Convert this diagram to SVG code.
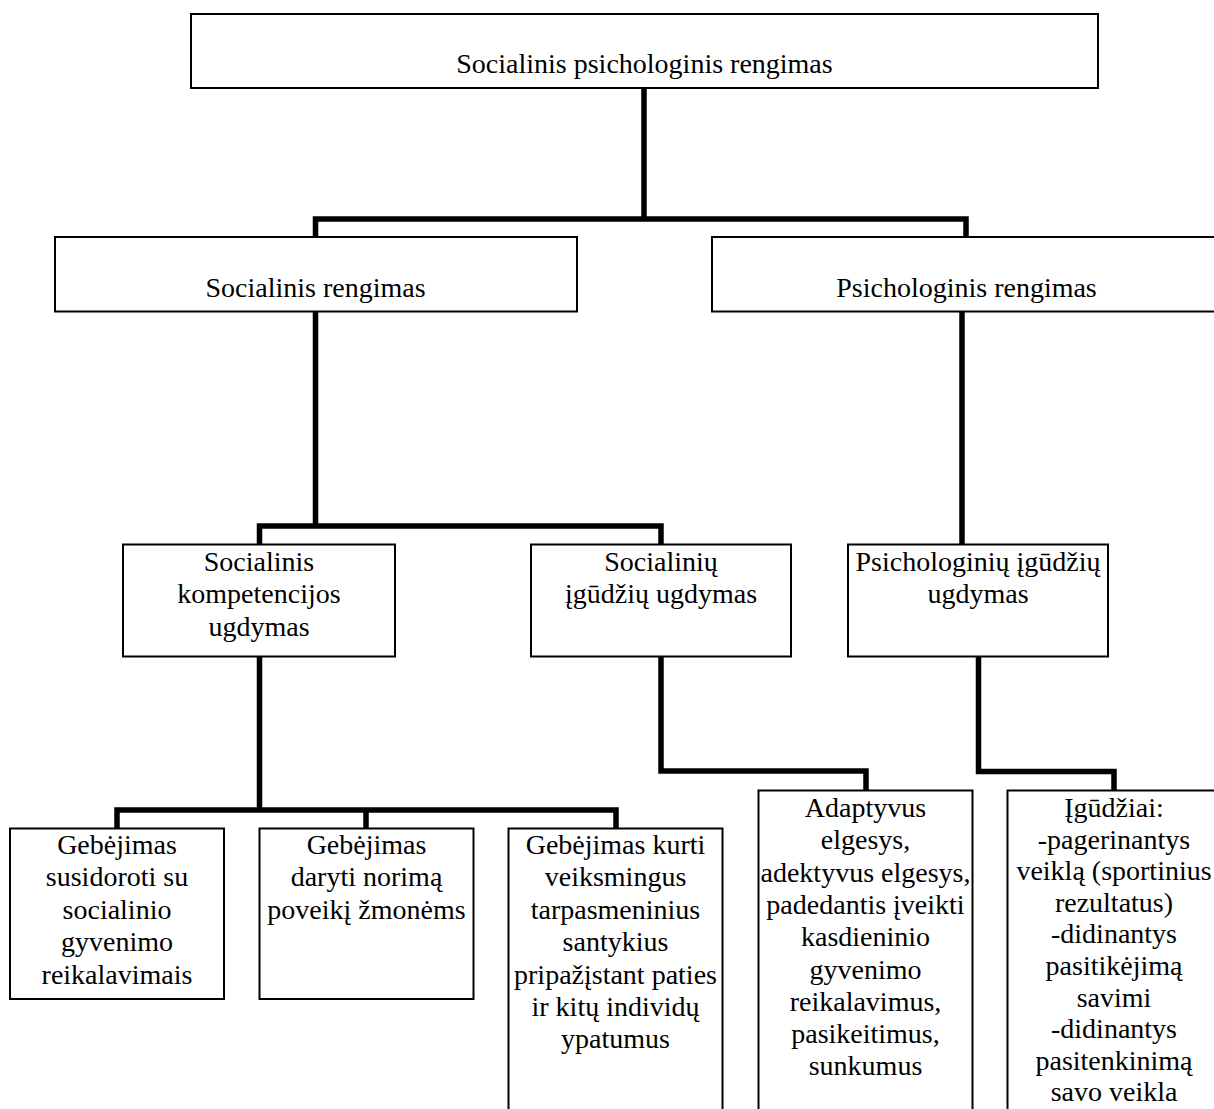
<svg xmlns="http://www.w3.org/2000/svg" width="1214" height="1109" viewBox="0 0 1214 1109">
<style>
.box{fill:#fff;stroke:#000;stroke-width:2}
.conn{fill:none;stroke:#000;stroke-width:5.5;stroke-linejoin:miter;stroke-linecap:butt}
text{font-family:"Liberation Serif","Times New Roman",serif;font-size:28px;fill:#000;text-anchor:middle}
</style>
<rect x="0" y="0" width="1214" height="1109" fill="#fff"/>
<g id="connectors">
<path class="conn" d="M644 88 V219"/>
<path class="conn" d="M315.5 237 V219 H966 V237"/>
<path class="conn" d="M315.5 311.5 V526"/>
<path class="conn" d="M259.5 544.5 V526 H661 V544.5"/>
<path class="conn" d="M962 311.5 V544.5"/>
<path class="conn" d="M259.5 656.5 V810"/>
<path class="conn" d="M117 828.5 V810 H616 V828.5"/>
<path class="conn" d="M366 810 V828.5"/>
<path class="conn" d="M661 656.5 V771 H866 V790.5"/>
<path class="conn" d="M978.5 656.5 V771.5 H1114 V790.5"/>
</g>
<g id="n-root">
<rect class="box" x="191" y="14" width="907" height="74"/>
<text x="644.5" y="73">Socialinis psichologinis rengimas</text>
</g>
<g id="n-social">
<rect class="box" x="55" y="237" width="522" height="74.5"/>
<text x="315.5" y="296.5">Socialinis rengimas</text>
</g>
<g id="n-psych">
<rect class="box" x="712" y="237" width="510" height="74.5"/>
<text x="966.5" y="296.5">Psichologinis rengimas</text>
</g>
<g id="n-komp">
<rect class="box" x="123" y="544.5" width="272" height="112"/>
<text><tspan x="259" y="570.5">Socialinis</tspan><tspan x="259" y="603">kompetencijos</tspan><tspan x="259" y="635.5">ugdymas</tspan></text>
</g>
<g id="n-socig">
<rect class="box" x="531" y="544.5" width="260" height="112"/>
<text><tspan x="661" y="570.5">Socialinių</tspan><tspan x="661" y="603">įgūdžių ugdymas</tspan></text>
</g>
<g id="n-psyig">
<rect class="box" x="848" y="544.5" width="260" height="112"/>
<text><tspan x="978" y="570.5">Psichologinių įgūdžių</tspan><tspan x="978" y="603">ugdymas</tspan></text>
</g>
<g id="n-b1">
<rect class="box" x="10" y="828.5" width="214" height="170.5"/>
<text><tspan x="117" y="854">Gebėjimas</tspan><tspan x="117" y="886.4">susidoroti su</tspan><tspan x="117" y="918.8">socialinio</tspan><tspan x="117" y="951.2">gyvenimo</tspan><tspan x="117" y="983.6">reikalavimais</tspan></text>
</g>
<g id="n-b2">
<rect class="box" x="259.5" y="828.5" width="214" height="170.5"/>
<text><tspan x="366.5" y="854">Gebėjimas</tspan><tspan x="366.5" y="886.4">daryti norimą</tspan><tspan x="366.5" y="918.8">poveikį žmonėms</tspan></text>
</g>
<g id="n-b3">
<rect class="box" x="508.5" y="828.5" width="214" height="290"/>
<text><tspan x="615.5" y="854">Gebėjimas kurti</tspan><tspan x="615.5" y="886.4">veiksmingus</tspan><tspan x="615.5" y="918.8">tarpasmeninius</tspan><tspan x="615.5" y="951.2">santykius</tspan><tspan x="615.5" y="983.6">pripažįstant paties</tspan><tspan x="615.5" y="1016">ir kitų individų</tspan><tspan x="615.5" y="1048.4">ypatumus</tspan></text>
</g>
<g id="n-b4">
<rect class="box" x="758.5" y="790.5" width="214" height="330"/>
<text><tspan x="865.5" y="817">Adaptyvus</tspan><tspan x="865.5" y="849.3">elgesys,</tspan><tspan x="865.5" y="881.6">adektyvus elgesys,</tspan><tspan x="865.5" y="913.9">padedantis įveikti</tspan><tspan x="865.5" y="946.2">kasdieninio</tspan><tspan x="865.5" y="978.5">gyvenimo</tspan><tspan x="865.5" y="1010.8">reikalavimus,</tspan><tspan x="865.5" y="1043.1">pasikeitimus,</tspan><tspan x="865.5" y="1075.4">sunkumus</tspan></text>
</g>
<g id="n-b5">
<rect class="box" x="1007.5" y="790.5" width="214" height="330"/>
<text><tspan x="1114" y="817">Įgūdžiai:</tspan><tspan x="1114" y="848.6">-pagerinantys</tspan><tspan x="1114" y="880.2">veiklą (sportinius</tspan><tspan x="1114" y="911.8">rezultatus)</tspan><tspan x="1114" y="943.4">-didinantys</tspan><tspan x="1114" y="975">pasitikėjimą</tspan><tspan x="1114" y="1006.6">savimi</tspan><tspan x="1114" y="1038.2">-didinantys</tspan><tspan x="1114" y="1069.8">pasitenkinimą</tspan><tspan x="1114" y="1101.4">savo veikla</tspan></text>
</g>
</svg>
